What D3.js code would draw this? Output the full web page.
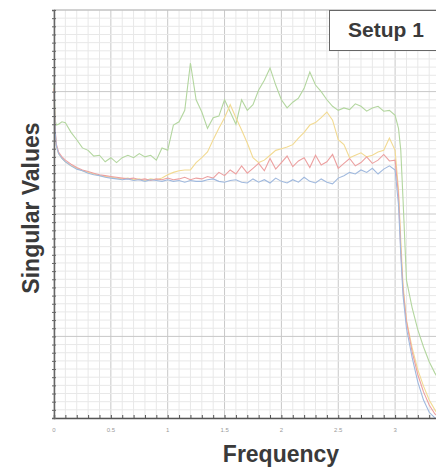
<!DOCTYPE html>
<html>
<head>
<meta charset="utf-8">
<script src="https://cdn.jsdelivr.net/npm/d3@7"></script>
<style>
  body { margin: 0; background: #fff; }
  svg { display: block; font-family: "Liberation Sans", Arial, sans-serif; }
</style>
</head>
<body>
<script>
// frequency samples shared by all series
var freq = [0, 0.01, 0.02, 0.04, 0.07,
  0.1, 0.15, 0.2, 0.25, 0.3, 0.35, 0.4, 0.45, 0.5,
  0.55, 0.6, 0.65, 0.7, 0.75, 0.8, 0.85, 0.9, 0.95,
  1.0, 1.05, 1.1, 1.15, 1.2, 1.25, 1.3, 1.35, 1.4, 1.45,
  1.5, 1.55, 1.6, 1.65, 1.7, 1.75, 1.8, 1.85, 1.9, 1.95,
  2.0, 2.05, 2.1, 2.15, 2.2, 2.25, 2.3, 2.35, 2.4, 2.45,
  2.5, 2.55, 2.6, 2.65, 2.7, 2.75, 2.8, 2.85, 2.9, 2.95,
  3.0,
  3.03, 3.05, 3.07, 3.1, 3.15, 3.2, 3.25, 3.3, 3.35, 3.4];

var greenValues = [40.8, 36.5, 35.9, 36.0, 36.3,
  36.2, 35.0, 34.1, 33.1, 32.8, 32.1, 32.2, 31.4, 31.9,
  31.3, 31.9, 32.2, 31.9, 32.4, 32.0, 32.2, 31.6, 33.1,
  32.8, 35.9, 36.3, 37.7, 43.5, 39.0, 37.5, 35.5, 36.8, 37.0,
  39.0, 37.5, 36.0, 39.0, 37.7, 38.4, 40.2, 41.4, 42.9, 40.8,
  39.0, 38.0, 38.7, 39.2, 40.4, 42.4, 40.8, 40.0, 39.0, 38.2,
  37.7, 38.0, 37.8, 38.5, 38.2, 37.6, 38.0, 38.2, 37.6, 37.7,
  37.1,
  35.5, 32.8, 26.7, 16.9, 13.5, 10.8, 8.7, 6.9, 5.5, 4.4];

var yellowValues = [40.2, 35.0, 33.4, 32.4, 31.8,
  31.4, 30.9, 30.6, 30.3, 30.1, 29.9, 29.7, 29.6, 29.5,
  29.4, 29.3, 29.4, 29.2, 29.3, 29.1, 29.3, 29.2, 29.4,
  29.8, 30.1, 30.3, 30.4, 30.4, 31.3, 31.9, 32.6, 34.1, 35.5,
  36.8, 38.4, 36.8, 35.3, 33.7, 31.9, 31.3, 31.6, 32.2, 32.8,
  33.0, 33.2, 33.5, 34.3, 35.0, 35.9, 36.2, 36.8, 37.5, 36.5,
  34.1, 33.5, 31.9, 32.2, 32.5, 32.0, 32.2, 32.6, 32.8, 34.3,
  32.8,
  27.9, 21.8, 16.3, 12.0, 8.6, 5.9, 3.9, 2.2, 1.0, 0];

var redValues = [40.4, 35.5, 33.6, 32.6, 32.0,
  31.6, 31.1, 30.7, 30.4, 30.2, 30.0, 29.8, 29.7, 29.6,
  29.5, 29.4, 29.3, 29.4, 29.2, 29.3, 29.1, 29.3, 29.2,
  29.4, 29.2, 29.3, 29.5, 29.2, 29.4, 29.3, 29.6, 29.4, 30.1,
  29.7, 30.4, 29.9, 30.9, 30.0, 30.6, 31.2, 30.3, 31.8, 30.5,
  31.3, 32.1, 30.8, 31.5, 31.9, 30.7, 32.2, 31.0, 31.4, 32.3,
  30.6, 31.2, 31.8, 30.9, 31.3, 32.0, 31.2, 31.6, 32.3, 31.5,
  31.6,
  27.3, 20.6, 15.7, 11.8, 8.1, 5.3, 3.2, 1.6, 0.5, 0];

var blueValues = [40.0, 35.2, 33.4, 32.4, 31.8,
  31.4, 30.9, 30.5, 30.3, 30.0, 29.8, 29.7, 29.5, 29.4,
  29.3, 29.2, 29.3, 29.1, 29.2, 29.0, 29.2, 29.1, 29.0,
  29.2, 29.0, 29.1, 28.9, 29.1, 29.0, 29.0, 29.2, 29.3, 29.0,
  28.9, 29.1, 29.2, 28.9, 28.8, 29.3, 28.9, 29.2, 28.8, 29.4,
  29.0, 28.8, 29.2, 28.9, 29.5, 29.0, 28.8, 29.3, 28.9, 28.7,
  29.4, 29.7, 30.1, 29.9, 30.4, 30.1, 30.6, 29.9, 30.5, 30.9,
  30.4,
  26.1, 20.0, 15.0, 11.0, 7.4, 4.4, 2.2, 0.7, 0, 0];

var seriesNames = ["green", "yellow", "red", "blue"];
var seriesColors = ["#b3d69f", "#f2da92", "#eca0a0", "#a0b9de"];
var xTickLabels = ["0", "0.5", "1", "1.5", "2", "2.5", "3"];
var legendLabel = "Setup 1";

var width = 436, height = 468;
var margin = {top: 10, left: 54, bottom: 50};

var xScale = d3.scaleLinear().domain([0, 3.5]).range([margin.left, margin.left + 3.5 * 113.7]);
var yScale = d3.scaleLinear().domain([0, 50]).range([height - margin.bottom, margin.top]);

var svg = d3.select("body").append("svg")
    .attr("width", width)
    .attr("height", height);

// grid
var xMinor = d3.range(0, 36).map(function(i) { return i / 10; });
var yMinor = d3.range(0, 51);
var yMajor = [10, 25, 40];

var grid = svg.append("g").attr("id", "grid");
grid.selectAll("line.vminor")
    .data(xMinor)
    .enter().append("line")
    .attr("x1", function(d) { return xScale(d); })
    .attr("x2", function(d) { return xScale(d); })
    .attr("y1", yScale(50))
    .attr("y2", yScale(0))
    .attr("stroke", function(d, i) { return i % 5 == 0 ? "#c8c8c8" : "#e8e8e8"; })
    .attr("stroke-width", 1);

grid.selectAll("line.hminor")
    .data(yMinor)
    .enter().append("line")
    .attr("x1", xScale(0))
    .attr("x2", width)
    .attr("y1", function(d) { return yScale(d); })
    .attr("y2", function(d) { return yScale(d); })
    .attr("stroke", function(d) { return yMajor.indexOf(d) >= 0 ? "#c8c8c8" : "#e8e8e8"; })
    .attr("stroke-width", 1);

// top frame
svg.append("line")
    .attr("x1", xScale(0)).attr("x2", width)
    .attr("y1", yScale(50)).attr("y2", yScale(50))
    .attr("stroke", "#b0b0b0");

// series lines
var line = d3.line()
    .x(function(d) { return xScale(d[0]); })
    .y(function(d) { return yScale(d[1]); });

var allValues = [greenValues, yellowValues, redValues, blueValues];
var lines = svg.append("g").attr("id", "lines");
lines.selectAll("path")
    .data(allValues)
    .enter().append("path")
    .attr("d", function(vals) {
        return line(freq.map(function(f, i) { return [f, vals[i]]; }));
    })
    .attr("fill", "none")
    .attr("stroke", function(d, i) { return seriesColors[i]; })
    .attr("stroke-width", 1.1);

// axes
var xAxis = d3.axisBottom(xScale)
    .tickValues(xMinor)
    .tickSize(-3)
    .tickFormat("");
svg.append("g")
    .attr("transform", "translate(0," + yScale(0) + ")")
    .call(xAxis)
    .call(function(g) {
        g.select(".domain").attr("stroke", "#555").attr("stroke-width", 1.5);
        g.selectAll(".tick line").attr("stroke", "#555");
    });

var yAxis = d3.axisLeft(yScale)
    .tickValues(yMinor)
    .tickSize(2)
    .tickFormat("");
svg.append("g")
    .attr("transform", "translate(" + xScale(0) + ",0)")
    .call(yAxis)
    .call(function(g) {
        g.select(".domain").attr("stroke", "#666").attr("stroke-width", 1.5);
        g.selectAll(".tick line").attr("stroke", "#666").attr("x2", 2).attr("x1", -2);
    });

// x tick labels
svg.append("g").selectAll("text")
    .data(xTickLabels)
    .enter().append("text")
    .attr("x", function(d) { return xScale(+d); })
    .attr("y", yScale(0) + 14)
    .attr("text-anchor", "middle")
    .attr("font-size", 6)
    .attr("fill", "#9a9a9a")
    .text(function(d) { return d; });

// axis titles
svg.append("text")
    .attr("x", 281)
    .attr("y", 462)
    .attr("text-anchor", "middle")
    .attr("font-size", 23)
    .attr("font-weight", "bold")
    .attr("fill", "#3a3a3a")
    .text("Frequency");

svg.append("text")
    .attr("transform", "translate(39,208) rotate(-90)")
    .attr("text-anchor", "middle")
    .attr("font-size", 23)
    .attr("font-weight", "bold")
    .attr("fill", "#3a3a3a")
    .text("Singular Values");

// legend box
var legend = svg.append("g");
legend.append("rect")
    .attr("x", 329.5)
    .attr("y", 10.5)
    .attr("width", 120)
    .attr("height", 40)
    .attr("fill", "#fff")
    .attr("stroke", "#666")
    .attr("stroke-width", 1);
legend.append("text")
    .attr("x", 348)
    .attr("y", 37)
    .attr("font-size", 21)
    .attr("font-weight", "bold")
    .attr("fill", "#3a3a3a")
    .text(legendLabel);
</script>
</body>
</html>
